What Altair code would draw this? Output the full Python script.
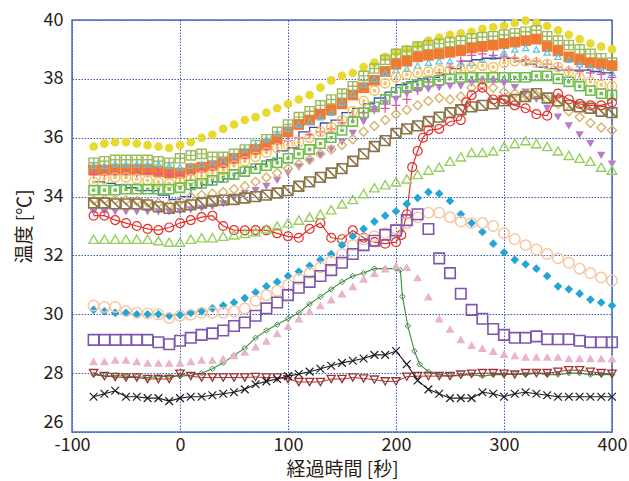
import altair as alt
import pandas as pd

# ---------------- data ----------------
T = list(range(-80, 401, 10))

yellow = [35.7,35.8,35.85,35.85,35.8,35.75,35.7,35.65,35.75,35.85, 36.0,36.1,36.3,36.45,36.6,36.7,36.85,37.0,37.15,37.3, 37.45,37.7,37.95,38.1,38.2,38.4,38.55,38.75,38.9,39.0, 39.15,39.3,39.4,39.5,39.55,39.6,39.7,39.75,39.8,39.9, 39.98,39.9,39.8,39.65,39.5,39.35,39.2,39.1,39.0]
olive = [35.15,35.2,35.25,35.25,35.25,35.25,35.2,35.15,35.3,35.4, 35.45,35.35,35.35,35.45,35.6,35.75,35.95,36.2,36.45,36.7, 36.9,37.1,37.3,37.5,37.75,38.1,38.35,38.65,38.85,38.95, 39.1,39.15,39.2,39.25,39.3,39.38,39.42,39.45,39.5,39.55, 39.6,39.65,39.45,39.3,39.15,39.0,38.85,38.7,38.55]
orange = [34.9,34.9,34.9,34.9,34.9,34.9,34.85,34.8,34.8,34.95, 35.0,35.05,35.15,35.3,35.45,35.6,35.75,35.95,36.2,36.45, 36.6,36.8,36.95,37.15,37.45,37.7,37.95,38.25,38.5,38.6, 38.75,38.8,38.85,38.9,38.95,39.05,39.1,39.15,39.2,39.25, 39.3,39.35,39.1,38.95,38.75,38.65,38.55,38.5,38.45]
cyan = [35.05,35.05,35.1,35.1,35.1,35.1,35.1,35.05,35.0,35.05, 35.1,35.15,35.25,35.4,35.6,35.75,35.95,36.15,36.3,36.45, 36.55,36.7,36.85,37.2,37.5,37.8,38.0,38.2,38.3,38.35, 38.45,38.55,38.6,38.6,38.55,38.55,38.65,38.75,38.9,39.0, 39.05,39.0,38.9,38.75,38.65,38.5,38.4,38.3,38.2]
blue = [34.5,34.45,34.4,34.3,34.2,34.2,34.05,33.9,34.0,34.3, 34.4,34.5,34.6,34.8,35.0,35.1,35.25,35.55,35.65,36.2, 36.35,36.5,36.6,36.85,37.0,37.15,37.35,37.55,37.8,37.9, 38.0,38.05,38.15,38.35,38.6,38.65,38.7,38.7,38.7,38.6, 38.5,38.4,38.35,38.3,38.3,38.3,38.25,38.2,38.15]
pink = [34.75,34.75,34.8,34.8,34.8,34.8,34.8,34.75,34.72,34.75, 34.85,34.95,35.05,35.15,35.3,35.45,35.6,35.8,35.9,36.0, 36.1,36.2,36.3,36.5,36.7,36.85,36.95,37.0,37.1,37.3, 37.6,37.9,38.2,38.4,38.6,38.8,38.85,38.8,38.75,38.7, 38.65,38.6,38.5,38.4,38.3,38.25,38.2,38.15,38.05]
gold = [34.5,34.6,34.65,34.65,34.6,34.55,34.5,34.45,34.5,34.6, 34.7,34.8,34.9,35.05,35.2,35.35,35.5,35.65,35.75,35.85, 36.0,36.2,36.35,36.6,36.9,37.25,37.6,37.85,38.05,38.15, 38.2,38.25,38.3,38.3,38.3,38.4,38.45,38.4,38.55,38.6, 38.6,38.55,38.5,38.4,38.25,38.05,37.9,37.8,37.75]
green = [34.22,34.22,34.22,34.25,34.25,34.25,34.25,34.25,34.3,34.4, 34.45,34.55,34.65,34.75,34.85,34.95,35.05,35.15,35.3,35.45, 35.6,35.8,36.0,36.25,36.55,36.85,37.05,37.3,37.55,37.7, 37.8,37.9,37.95,38.0,38.05,38.05,38.05,38.05,38.05,38.05, 38.05,38.1,38.1,38.0,37.9,37.75,37.6,37.5,37.45]
purple_tri = [33.48,33.48,33.48,33.48,33.48,33.48,33.48,33.48,33.5,33.55, 33.6,33.65,33.75,33.95,34.1,34.2,34.35,34.55,34.8,35.0, 35.2,35.4,35.6,35.85,36.15,36.55,36.95,37.15,37.3,37.5, 37.6,37.65,37.7,37.75,37.75,37.85,37.9,37.9,37.85,37.7, 37.55,37.3,37.0,36.7,36.4,36.1,35.8,35.4,35.1]
tan = [33.88,33.9,33.9,33.88,33.85,33.8,33.78,33.72,33.85,34.0, 34.05,34.1,34.15,34.25,34.35,34.5,34.65,34.8,34.95,35.1, 35.25,35.45,35.6,35.75,35.95,36.2,36.4,36.6,36.8,36.95, 37.1,37.25,37.35,37.3,37.4,37.7,37.8,37.7,37.55,37.5, 37.45,37.45,37.3,37.15,36.9,36.7,36.5,36.35,36.25]
brown = [33.78,33.78,33.75,33.75,33.75,33.72,33.65,33.6,33.65,33.72, 33.78,33.85,33.88,33.9,33.95,34.0,34.05,34.12,34.2,34.35, 34.5,34.65,34.8,34.95,35.2,35.45,35.7,35.9,36.15,36.3, 36.4,36.55,36.7,36.85,36.95,37.05,37.1,37.15,37.25,37.3, 37.4,37.5,37.35,37.25,37.1,37.05,37.0,36.9,36.85]
lgreen = [32.55,32.55,32.55,32.55,32.55,32.55,32.5,32.45,32.45,32.55, 32.6,32.6,32.65,32.7,32.75,32.8,32.9,33.0,33.1,33.2, 33.3,33.4,33.55,33.75,33.9,34.1,34.3,34.4,34.5,34.6, 34.75,34.9,35.0,35.2,35.35,35.5,35.5,35.55,35.7,35.8, 35.9,35.8,35.7,35.55,35.4,35.3,35.2,35.0,34.9]
bdiam = [30.15,30.1,30.05,30.05,30.0,30.0,30.0,29.95,29.98,30.05, 30.1,30.2,30.3,30.4,30.55,30.75,30.95,31.1,31.3,31.45, 31.65,31.85,32.05,32.35,32.65,32.9,33.15,33.35,33.5,33.75, 33.95,34.15,34.1,33.85,33.4,33.1,32.8,32.4,32.1,31.85, 31.7,31.55,31.3,30.95,30.85,30.7,30.5,30.4,30.3]
peach = [30.3,30.25,30.25,30.1,30.05,30.03,30.0,29.87,29.95,29.98, 30.05,30.05,30.05,30.1,30.2,30.45,30.65,30.8,31.0,31.2, 31.4,31.6,31.8,32.05,32.35,32.55,32.65,32.75,32.9,33.1, 33.3,33.45,33.45,33.3,33.15,33.1,33.1,33.0,32.75,32.55, 32.35,32.2,32.05,31.9,31.75,31.55,31.4,31.25,31.15]
purple_sq = [29.13,29.13,29.13,29.13,29.13,29.13,29.05,28.98,29.1,29.2, 29.3,29.35,29.45,29.6,29.72,29.95,30.2,30.4,30.65,30.9, 31.1,31.3,31.5,31.75,32.05,32.35,32.5,32.7,32.85,33.2, 33.4,32.9,31.9,31.4,30.7,30.15,29.85,29.5,29.3,29.2, 29.2,29.25,29.15,29.15,29.15,29.1,29.05,29.05,29.05]
pink_tri = [28.4,28.4,28.45,28.45,28.4,28.35,28.35,28.35,28.35,28.4, 28.45,28.45,28.5,28.6,28.72,28.9,29.1,29.35,29.6,29.85, 30.1,30.3,30.5,30.7,30.95,31.2,31.4,31.55,31.65,31.6, 31.25,30.6,29.85,29.5,29.15,28.95,28.85,28.75,28.65,28.6, 28.55,28.55,28.55,28.55,28.5,28.5,28.5,28.5,28.5]
darkred = [28.0,27.9,27.87,27.85,27.85,27.8,27.8,27.8,27.98,27.9, 27.85,27.85,27.85,27.85,27.85,27.87,27.85,27.85,27.8,27.7, 27.7,27.7,27.8,27.8,27.85,27.82,27.78,27.72,27.72,27.88, 27.9,27.9,27.9,27.9,27.95,27.98,28.0,28.0,27.98,27.95, 28.0,28.0,28.0,28.05,28.1,28.1,28.05,28.0,27.98]
black = [27.2,27.3,27.4,27.2,27.2,27.15,27.15,27.05,27.15,27.2, 27.2,27.25,27.3,27.35,27.45,27.62,27.72,27.8,27.9,27.97, 28.05,28.15,28.25,28.35,28.42,28.5,28.62,28.62,28.75,28.3, 27.75,27.45,27.3,27.15,27.15,27.15,27.35,27.3,27.2,27.3, 27.35,27.3,27.25,27.2,27.2,27.2,27.2,27.2,27.2]

red_t = [-80,-70,-60,-50,-40,-30,-20,-10,0,10,20,30,40,50,60,70,80,90,100,110,120,130,140,150,160,170,180,190,200,
         205,210,215,220,225,230,240,250,260,265,270,280,290,300,310,320,330,340,350,360,370,380,390,400]
red = [33.35,33.35,33.2,33.1,33.0,32.9,32.86,32.95,33.1,33.2, 33.3,33.35,33.0,32.86,32.85,32.86,32.85,32.75,32.65,32.6,
       32.9,33.1,32.6,32.55,32.85,32.6,32.45,32.4,32.45,
       32.7,33.4,35.0,35.55,36.0,36.25, 36.3,36.55,36.6,37.2,37.45,
       37.7,37.3,37.3,37.1,37.0,36.8,36.75,37.5,37.3,37.15,37.1,37.1,37.2]

gd_t = [-80,-70,-60,-50,-40,-30,-20,-10,0,10,20,30,40,50,60,70,80,90,100,110,120,130,140,150,160,170,180,190,200,
        204,206,211,217,222,230,240,250,260,270,280,290,300,310,320,330,340,350,360,370,380,390,400]
gdiam = [27.95,27.9,27.92,27.9,27.88,27.85,27.88,27.9,27.9,27.92, 28.0,28.15,28.35,28.6,28.85,29.2,29.45,29.65,29.85,30.05,
         30.35,30.6,30.85,31.1,31.3,31.4,31.55,31.55,31.55,
         31.5,30.6,29.6,28.75,28.3,
         28.05,27.95,27.9,27.92,27.95,27.9,27.95,27.95,27.98,27.95,28.0,27.95,27.95,28.0,28.0,27.95,27.95,27.95]

for s in [yellow, olive, orange, cyan, blue, pink, gold, green, purple_tri, tan, brown,
          lgreen, bdiam, peach, purple_sq, pink_tri, darkred, black]:
    assert len(s) == len(T), len(s)
assert len(red) == len(red_t)
assert len(gdiam) == len(gd_t)

# ---------------- marker shapes ----------------
SQ_PLUS = "M-1,-1H1V1H-1Z M0,-1V1 M-1,0H1"
SQ_DOT = "M-1,-1H1V1H-1Z M-0.2,-0.2H0.2V0.2H-0.2Z"
CIRC_DOT = "M1,0A1,1 0 1,1 -1,0A1,1 0 1,1 1,0Z M0.25,0A0.25,0.25 0 1,1 -0.25,0A0.25,0.25 0 1,1 0.25,0Z"
SQ_DIAG = "M-1,-1H1V1H-1Z M-1,-1L1,1"
PLUS = "M-1,0H1 M0,-1V1"
XMARK = "M-1,-1L1,1 M-1,1L1,-1"

FONT = "Noto Sans CJK JP"
X = alt.X("t:Q", scale=alt.Scale(domain=[-100, 400], nice=False, zero=False),
          axis=alt.Axis(values=[-100, 0, 100, 200, 300, 400], title="経過時間 [秒]",
                        labelExpr="'' + datum.value"))
Y = alt.Y("v:Q", scale=alt.Scale(domain=[26, 40], nice=False, zero=False),
          axis=alt.Axis(values=[26, 28, 30, 32, 34, 36, 38, 40], title="温度 [℃]",
                        labelOffset={"condition": {"test": "datum.value == 26", "value": -10}, "value": 0}))

layers = []

def add(times, vals, color, shape=None, size=40, filled=False, sw=1.2, line=None, interp=None):
    df = pd.DataFrame({"t": times, "v": vals})
    base = alt.Chart(df)
    if line is not None:
        kw = dict(color=color, strokeWidth=line)
        if interp:
            kw["interpolate"] = interp
        layers.append(base.mark_line(**kw).encode(x=X, y=Y))
    if shape is not None:
        if filled:
            layers.append(base.mark_point(shape=shape, size=size, filled=True, color=color,
                                          opacity=1).encode(x=X, y=Y))
        else:
            layers.append(base.mark_point(shape=shape, size=size, filled=False, color=color,
                                          strokeWidth=sw, opacity=1).encode(x=X, y=Y))

add(T, yellow, "#e8d92e", "circle", size=75, filled=True)
add(T, olive, "#9cba5a", SQ_PLUS, size=85, sw=1.4)
add(T, orange, "#f07a32", "square", size=115, filled=True)
add(T, cyan, "#56c6e6", "triangle-up", size=40, sw=1.2)
add(T, blue, "#2e4fae", None, line=1.3, interp="step-after")
add(T, pink, "#e4559c", PLUS, size=80, sw=1.3)
add(T, gold, "#f2c160", CIRC_DOT, size=85, sw=1.5)
add(T, green, "#70bf4c", SQ_DOT, size=85, sw=1.6)
add(T, purple_tri, "#b67cc6", "triangle-down", size=70, filled=True)
add(T, tan, "#d6b36a", "diamond", size=80, sw=1.4)
add(T, brown, "#8b7446", SQ_DIAG, size=95, sw=1.6)
add(red_t, red, "#e2322c", "circle", size=80, sw=1.2, line=1.2)
add(T, lgreen, "#97cf5e", "triangle-up", size=90, sw=1.4)
add(T, bdiam, "#23a5d6", "diamond", size=75, filled=True)
add(T, peach, "#f9c6a0", "circle", size=110, sw=1.5)
add(T, purple_sq, "#7f56ad", "square", size=110, sw=1.6)
add(gd_t, gdiam, "#3d8f3f", "diamond", size=30, sw=1.0, line=1.1)
add(T, pink_tri, "#eab3c9", "triangle-up", size=80, filled=True)
add(T, darkred, "#9b3535", "triangle-down", size=70, sw=1.3, line=1.0)
add(T, black, "#1e1e1e", XMARK, size=60, sw=1.2, line=1.1)

chart = (
    alt.layer(*layers)
    .properties(width=540, height=412,
                padding={"left": 72, "top": 20, "right": 17, "bottom": 49},
                autosize=alt.AutoSizeParams(type="none"))
    .configure_view(stroke="#4a6fc0", strokeWidth=1.5)
    .configure_axis(grid=True, gridColor="#3a5cbc", gridDash=[1.5, 1.5], gridWidth=1,
                    domain=False, ticks=False, labelFlush=False,
                    labelFont=FONT, labelFontSize=18, labelColor="#2a1c14",
                    titleFont=FONT, titleFontSize=19, titleFontWeight="normal",
                    titleColor="#2a1c14")
    .configure_axisY(labelPadding=9, titlePadding=9)
    .configure_axisX(labelPadding=4, titlePadding=6)
)

chart.save("out.html", embed_options={"renderer": "svg", "actions": False})
